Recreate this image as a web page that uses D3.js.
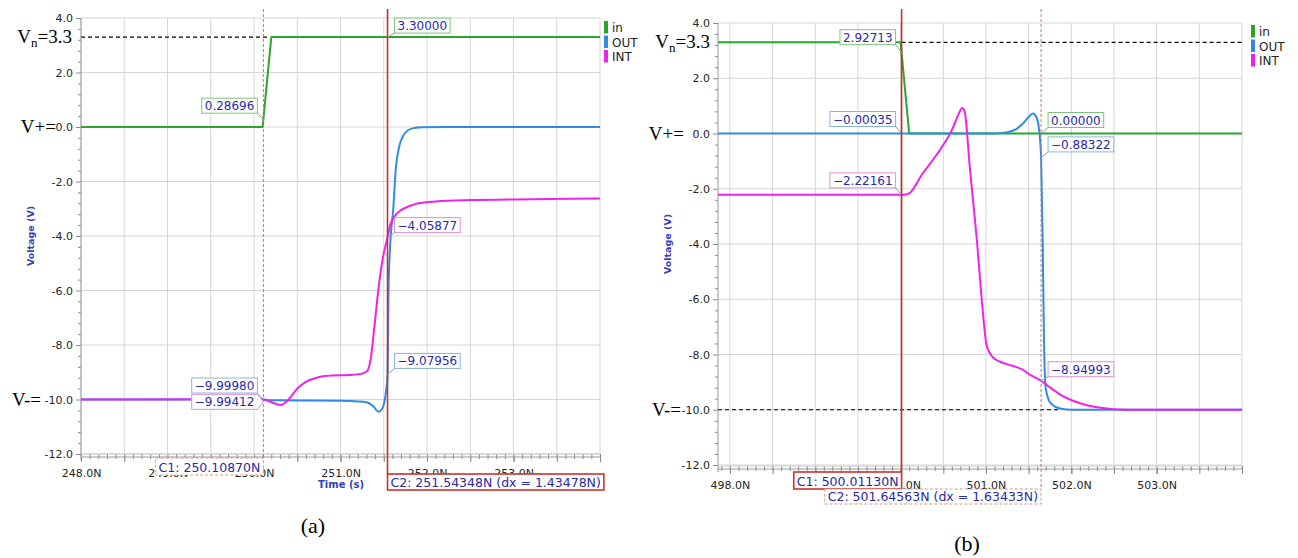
<!DOCTYPE html>
<html><head><meta charset="utf-8">
<script src="https://cdn.jsdelivr.net/npm/d3@7"></script>
<style>body{margin:0;background:#fff;} svg{display:block;}</style>
</head><body>
<svg id="c" width="1298" height="558"></svg>
<script>
// ---------------- DATA ----------------
const seriesNames = ["in", "OUT", "INT"];
const yTicks = [4, 2, 0, -2, -4, -6, -8, -10, -12];
const xTicksA = [248, 249, 250, 251, 252, 253];
const xTicksB = [498, 499, 500, 501, 502, 503];

// panel (a)
const tA_in  = [248, 250.10, 250.20, 254];
const vA_in  = [0, 0, 3.3, 3.3];
const tA_out = [248, 250.1, 250.2, 250.3, 250.6, 251.0, 251.2, 251.3, 251.38, 251.44, 251.48, 251.51, 251.53, 251.545, 251.555, 251.575, 251.61, 251.64, 251.68, 251.72, 251.78, 251.85, 251.95, 252.2, 254];
const vA_out = [-10, -10, -10.03, -10.03, -10.04, -10.05, -10.07, -10.1, -10.25, -10.45, -10.35, -10.05, -9.6, -9.08, -6.0, -4.3, -3.0, -1.5, -0.7, -0.35, -0.12, -0.04, -0.01, 0, 0];
const tA_int = [248, 250.1, 250.2, 250.31, 250.4, 250.5, 250.6, 250.72, 250.9, 251.1, 251.25, 251.31, 251.35, 251.39, 251.44, 251.49, 251.543, 251.57, 251.62, 251.7, 251.8, 251.9, 252.1, 252.5, 253.2, 254];
const vA_int = [-10, -9.99, -10.1, -10.2, -10.0, -9.6, -9.35, -9.2, -9.12, -9.1, -9.05, -8.95, -8.5, -7.4, -5.9, -4.8, -4.06, -3.65, -3.3, -3.05, -2.9, -2.8, -2.73, -2.68, -2.65, -2.62];
const cursorsA = [250.10870, 251.54348];
const refA = [[3.3, 248, 250.16]];
const annA = [
  {t: 250.10870, v: 0.28696,  s: "in",  text: "0.28696"},
  {t: 251.54348, v: 3.3,      s: "in",  text: "3.30000"},
  {t: 251.54348, v: -4.05877, s: "INT", text: "\u22124.05877"},
  {t: 251.54348, v: -9.07956, s: "OUT", text: "\u22129.07956"},
  {t: 250.10870, v: -9.99980, s: "OUT", text: "\u22129.99980"},
  {t: 250.10870, v: -9.99412, s: "INT", text: "\u22129.99412"}
];
const cursorTextA = ["C1: 250.10870N", "C2: 251.54348N (dx = 1.43478N)"];

// panel (b)
const tB_in  = [497.86, 500.0, 500.10, 504];
const vB_in  = [3.3, 3.3, 0, 0];
const tB_out = [497.86, 500.9, 501.1, 501.25, 501.35, 501.43, 501.5, 501.55, 501.59, 501.62, 501.646, 501.665, 501.68, 501.70, 501.73, 501.77, 501.83, 501.92, 502.05, 504];
const vB_out = [0, 0, 0, 0.05, 0.15, 0.35, 0.6, 0.72, 0.6, 0.2, -0.88, -4, -7.5, -9.2, -9.6, -9.8, -9.92, -9.98, -10, -10];
const tB_int = [497.86, 500.0, 500.08, 500.26, 500.46, 500.6, 500.68, 500.72, 500.75, 500.81, 500.9, 500.95, 501.01, 501.08, 501.18, 501.3, 501.43, 501.52, 501.646, 501.72, 501.87, 502.07, 502.34, 502.65, 504];
const vB_int = [-2.22, -2.22, -2.2, -1.44, -0.6, 0.12, 0.7, 0.92, 0.8, -1.2, -4.1, -6.0, -7.7, -8.1, -8.28, -8.4, -8.55, -8.74, -8.95, -9.12, -9.45, -9.73, -9.93, -10, -10];
const cursorsB = [500.01130, 501.64563];
const refB = [[3.3, 500.0113, 504], [-10, 497.86, 501.85]];
const annB = [
  {t: 500.01130, v: 2.92713,  s: "in",  text: "2.92713"},
  {t: 500.01130, v: -0.00035, s: "OUT", text: "\u22120.00035"},
  {t: 500.01130, v: -2.22161, s: "INT", text: "\u22122.22161"},
  {t: 501.64563, v: 0.0,      s: "in",  text: "0.00000"},
  {t: 501.64563, v: -0.88322, s: "OUT", text: "\u22120.88322"},
  {t: 501.64563, v: -8.94993, s: "INT", text: "\u22128.94993"}
];
const cursorTextB = ["C1: 500.01130N", "C2: 501.64563N (dx = 1.63433N)"];

// ---------------- STYLE ----------------
const FONT = "'DejaVu Sans', Verdana, sans-serif";
const SERIF = "'Liberation Serif', 'DejaVu Serif', serif";
const colors = {in: "#2ba52b", OUT: "#2f8ce4", INT: "#ee22ee"};
const boxColors = {in: "#7cc67c", OUT: "#8ab6d6", INT: "#de8ede"};
const textBlue = "#2a2aa2";
const axisBlue = "#3440bb";

const svg = d3.select("#c");
svg.append("rect").attr("width", 1298).attr("height", 558).attr("fill", "#fff");

function drawPanel(P) {
  const g = svg.append("g");
  const x = d3.scaleLinear().domain(P.xDomain).range([P.left, P.right]);
  const y = d3.scaleLinear().domain([-12, 4]).range([P.y12, P.top]);

  // grid
  const vg = d3.range(Math.ceil(P.xDomain[0] * 2) / 2, P.xDomain[1] + 1e-6, 0.5);
  g.append("g").selectAll("line").data(vg).join("line")
    .attr("x1", d => x(d)).attr("x2", d => x(d)).attr("y1", P.top).attr("y2", P.axisY)
    .attr("stroke", "#d6d6d6").attr("stroke-width", 1);
  g.append("g").selectAll("line").data(yTicks).join("line")
    .attr("x1", P.left).attr("x2", P.right).attr("y1", d => y(d)).attr("y2", d => y(d))
    .attr("stroke", "#d6d6d6").attr("stroke-width", 1);

  // reference dashed lines
  g.append("g").selectAll("line").data(P.refs).join("line")
    .attr("x1", d => x(d[1])).attr("x2", d => x(d[2]))
    .attr("y1", d => y(d[0])).attr("y2", d => y(d[0]))
    .attr("stroke", "#000").attr("stroke-width", 1.1).attr("stroke-dasharray", "4,3");

  // y axis
  const yMinor = d3.range(-12, 4.001, 0.4).filter(d => Math.abs(d / 2 - Math.round(d / 2)) > 0.01);
  const ya = g.append("g").attr("transform", `translate(${P.left},0)`)
    .call(d3.axisLeft(y).tickValues(yTicks).tickFormat(d => d.toFixed(1)).tickSize(5).tickSizeOuter(0));
  ya.select(".domain").remove();
  const ya2 = g.append("g").attr("transform", `translate(${P.left},0)`)
    .call(d3.axisLeft(y).tickValues(yMinor).tickFormat("").tickSize(3).tickSizeOuter(0));
  ya2.select(".domain").remove();
  g.append("line").attr("x1", P.left).attr("x2", P.left).attr("y1", P.top).attr("y2", P.axisY + 3)
    .attr("stroke", "#999");

  // x axis
  const xMinor = d3.range(Math.ceil(P.xDomain[0] * 10) / 10, P.xDomain[1] + 1e-6, 0.1);
  const xa = g.append("g").attr("transform", `translate(0,${P.axisY})`)
    .call(d3.axisBottom(x).tickValues(P.xTicks).tickFormat(d => d.toFixed(1) + "N").tickSize(5).tickPadding(7).tickSizeOuter(0));
  xa.select(".domain").remove();
  const xa2 = g.append("g").attr("transform", `translate(0,${P.axisY})`)
    .call(d3.axisBottom(x).tickValues(vg).tickFormat("").tickSize(5).tickSizeOuter(0));
  xa2.select(".domain").remove();
  const xa3 = g.append("g").attr("transform", `translate(0,${P.axisY - 3})`)
    .call(d3.axisBottom(x).tickValues(xMinor).tickFormat("").tickSize(5).tickSizeOuter(0));
  xa3.select(".domain").remove();
  g.append("line").attr("x1", P.left).attr("x2", P.right).attr("y1", P.axisY).attr("y2", P.axisY)
    .attr("stroke", "#999");
  g.append("line").attr("x1", P.left).attr("x2", P.right).attr("y1", P.axisY - 3).attr("y2", P.axisY - 3)
    .attr("stroke", "#ccc");

  [ya, ya2, xa, xa2, xa3].forEach(a => {
    a.selectAll("line").attr("stroke", "#888");
    a.selectAll("text").attr("font-family", FONT).attr("font-size", 11).attr("fill", "#262626");
  });

  // curves
  P.series.forEach(s => {
    const line = d3.line().x(d => x(d[0])).y(d => y(d[1]))
      .curve(s.name === "in" ? d3.curveLinear : d3.curveMonotoneX);
    g.append("path").datum(d3.zip(s.t, s.v)).attr("d", line)
      .attr("fill", "none").attr("stroke", colors[s.name]).attr("stroke-width", 2)
      .attr("stroke-linejoin", "round");
  });

  // cursors
  P.cursors.forEach((c, i) => {
    const st = P.cursorStyle[i];
    g.append("line").attr("x1", x(c)).attr("x2", x(c)).attr("y1", 9).attr("y2", st.boxTop)
      .attr("stroke", st.dashed ? "#c87864" : "#c8302c")
      .attr("stroke-width", st.dashed ? 1 : 1.6)
      .attr("stroke-dasharray", st.dashed ? "3,2" : null);
  });

  // annotations
  P.ann.forEach((a, i) => {
    const lay = P.annLayout[i];
    const ax = x(a.t), ay = y(a.v);
    const t = g.append("text").text(a.text).attr("font-family", FONT).attr("font-size", 12)
      .attr("fill", textBlue);
    const w = t.node().getComputedTextLength() + 6;
    const h = 15;
    let bx, by;
    if (lay[0] === "R") { bx = ax + 7; } else { bx = ax - 6 - w; }
    by = ay + lay[1] - h;
    if (lay[2] === "arrow") {
      const pts = [[bx, by], [bx + w, by], [bx + w + 6, by + h / 2], [bx + w, by + h], [bx, by + h]];
      g.insert("path", () => t.node()).attr("d", d3.line()(pts) + "Z")
        .attr("fill", "#fff").attr("stroke", boxColors[a.s]).attr("stroke-width", 1);
    } else {
      g.insert("rect", () => t.node()).attr("x", bx).attr("y", by).attr("width", w).attr("height", h)
        .attr("fill", "#fff").attr("stroke", boxColors[a.s]).attr("stroke-width", 1);
      const cx = lay[0] === "R" ? bx : bx + w;
      g.insert("line", () => t.node()).attr("x1", cx).attr("y1", by + h).attr("x2", ax).attr("y2", ay)
        .attr("stroke", "#9a9a9a").attr("stroke-width", 1);
    }
    t.attr("x", bx + 3).attr("y", by + 12);
  });

  // cursor labels
  P.cursors.forEach((c, i) => {
    const st = P.cursorStyle[i];
    const t = g.append("text").text(P.cursorText[i]).attr("font-family", FONT).attr("font-size", 12.5)
      .attr("fill", textBlue);
    const w = t.node().getComputedTextLength() + 6;
    const bx = st.side === "R" ? x(c) : x(c) - w;
    g.insert("rect", () => t.node()).attr("x", bx).attr("y", st.boxTop).attr("width", w).attr("height", st.h)
      .attr("fill", "#fff")
      .attr("stroke", st.dashed ? "#d29a86" : "#d0302c")
      .attr("stroke-width", st.dashed ? 1 : 1.6)
      .attr("stroke-dasharray", st.dashed ? "3,2" : null);
    t.attr("x", bx + 3).attr("y", st.boxTop + st.h - 3.5);
  });

  // legend
  seriesNames.forEach((n, i) => {
    g.append("rect").attr("x", P.legend[0]).attr("y", P.legend[1] + i * 14.5)
      .attr("width", 4).attr("height", 12.5).attr("fill", colors[n]);
    g.append("text").attr("x", P.legend[0] + 8).attr("y", P.legend[1] + i * 14.5 + 11)
      .attr("font-family", FONT).attr("font-size", 12).attr("fill", "#222").text(n);
  });

  // axis titles
  g.append("text").attr("transform", `translate(${P.vTitle[0]},${P.vTitle[1]}) rotate(-90)`)
    .attr("text-anchor", "middle").attr("font-family", FONT).attr("font-size", 9.5).attr("font-weight", "bold")
    .attr("fill", axisBlue).text("Voltage (V)");
  if (P.tTitle) {
    g.append("text").attr("x", P.tTitle[0]).attr("y", P.tTitle[1]).attr("text-anchor", "middle")
      .attr("font-family", FONT).attr("font-size", 10).attr("font-weight", "bold")
      .attr("fill", axisBlue).text("Time (s)");
  }

  // big serif labels
  const vn = g.append("text").attr("x", P.left - P.vnGap).attr("y", y(3.3) + 6).attr("text-anchor", "end")
    .attr("font-family", SERIF).attr("font-size", 19).attr("fill", "#000");
  vn.append("tspan").text("V");
  vn.append("tspan").attr("font-size", 13).attr("dy", 4).text("n");
  vn.append("tspan").attr("dy", -4).text("=3.3");
  g.append("text").attr("x", P.left - P.vpGap).attr("y", y(0) + 6).attr("text-anchor", "end")
    .attr("font-family", SERIF).attr("font-size", 19).attr("fill", "#000").text("V+=");
  g.append("text").attr("x", P.left - P.vmGap).attr("y", y(-10) + 6).attr("text-anchor", "end")
    .attr("font-family", SERIF).attr("font-size", 19).attr("fill", "#000").text("V-=");

  // subfigure label
  svg.append("text").attr("x", P.sub[0]).attr("y", P.sub[1]).attr("text-anchor", "middle")
    .attr("font-family", SERIF).attr("font-size", 22).attr("fill", "#000").text(P.subText);
}

drawPanel({
  xDomain: [248, 254], left: 81, right: 600, top: 18, y12: 454, axisY: 457,
  xTicks: xTicksA, refs: refA,
  series: [{name: "in", t: tA_in, v: vA_in}, {name: "OUT", t: tA_out, v: vA_out}, {name: "INT", t: tA_int, v: vA_int}],
  cursors: cursorsA, cursorText: cursorTextA,
  cursorStyle: [{dashed: true, side: "L", boxTop: 458, h: 17}, {dashed: false, side: "R", boxTop: 474, h: 16}],
  ann: annA,
  annLayout: [["L", -6], ["R", -4], ["R", -5], ["R", -6], ["L", -6.5], ["L", 10, "arrow"]],
  legend: [604, 21], vTitle: [34, 236], tTitle: [341, 488],
  vnGap: 9, vpGap: 25, vmGap: 40,
  sub: [313, 533], subText: "(a)"
});

drawPanel({
  xDomain: [497.86, 504], left: 718, right: 1242, top: 23, y12: 465, axisY: 469,
  xTicks: xTicksB, refs: refB,
  series: [{name: "in", t: tB_in, v: vB_in}, {name: "OUT", t: tB_out, v: vB_out}, {name: "INT", t: tB_int, v: vB_int}],
  cursors: cursorsB, cursorText: cursorTextB,
  cursorStyle: [{dashed: false, side: "L", boxTop: 472, h: 17}, {dashed: true, side: "L", boxTop: 489, h: 15}],
  ann: annB,
  annLayout: [["L", -8], ["L", -7], ["L", -7], ["R", -6], ["R", -6], ["R", -4]],
  legend: [1251, 25], vTitle: [671, 244], tTitle: null,
  vnGap: 8, vpGap: 34, vmGap: 37,
  sub: [967, 551], subText: "(b)"
});
</script>
</body></html>
